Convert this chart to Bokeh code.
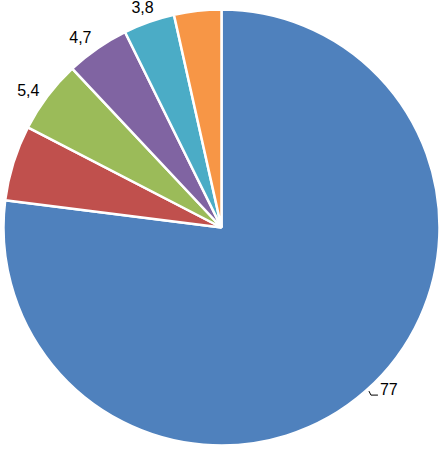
import numpy as np
from bokeh.plotting import figure
from bokeh.models import Range1d
from bokeh.core.properties import value
from bokeh.embed import file_html
from bokeh.resources import INLINE

# data
categories = ["A", "B", "C", "D", "E", "F"]
values = [77, 5.6, 5.4, 4.7, 3.8, 3.5]
labels = ["77", "5,6", "5,4", "4,7", "3,8", "3,5"]
colors = ["#4F81BD", "#C0504D", "#9BBB59", "#8064A2", "#4BACC6", "#F79646"]

# layout / style
W, H = 443, 449
cx, cy, R = 221.0, 222.0, 218.0
pad = 8.0
fs = 16
label_nudge = [(12, 12), (-12, 0), (-4, -2), (-6, 0), (0, 2), (0, 6)]

p = figure(width=W, height=H, output_backend="svg", toolbar_location=None,
           x_range=Range1d(0, W), y_range=Range1d(0, H), min_border=0)
p.axis.visible = False
p.grid.visible = False
p.outline_line_color = None
p.background_fill_color = "white"

vals = np.array(values, dtype=float)
frac = vals / vals.sum()
cum = np.concatenate([[0], np.cumsum(frac)])
start = np.pi / 2 - cum[:-1] * 2 * np.pi
end = np.pi / 2 - cum[1:] * 2 * np.pi

p.wedge(x=cx, y=cy, radius=R, start_angle=start, end_angle=end, direction="clock",
        fill_color=colors, line_color="white", line_width=2.5)

mid = (start + end) / 2
lx, ly = [], []
for i, lab in enumerate(labels):
    w = sum(0.556 * fs if ch.isdigit() else 0.278 * fs for ch in lab)
    h = 0.72 * fs
    ax = cx + (R + pad) * np.cos(mid[i])
    ay = cy + (R + pad) * np.sin(mid[i])
    x = ax + np.cos(mid[i]) * w / 2 + label_nudge[i][0]
    y = ay + np.sin(mid[i]) * h / 2 + label_nudge[i][1]
    lx.append(x)
    ly.append(y)

p.text(x=lx, y=ly, text=labels, text_align="center", text_baseline="middle",
       text_font=value("Liberation Sans"), text_font_size=f"{fs}px", text_color="black")

# leader line for first label
w0 = 2 * 0.556 * fs
x0 = lx[0] - w0 / 2
y0 = ly[0] - 0.36 * fs
p.line(x=[x0 - 11, x0 - 9, x0 - 2], y=[y0 + 4, y0, y0], line_color="black", line_width=1)

open("out.html", "w").write(file_html(p, INLINE))
